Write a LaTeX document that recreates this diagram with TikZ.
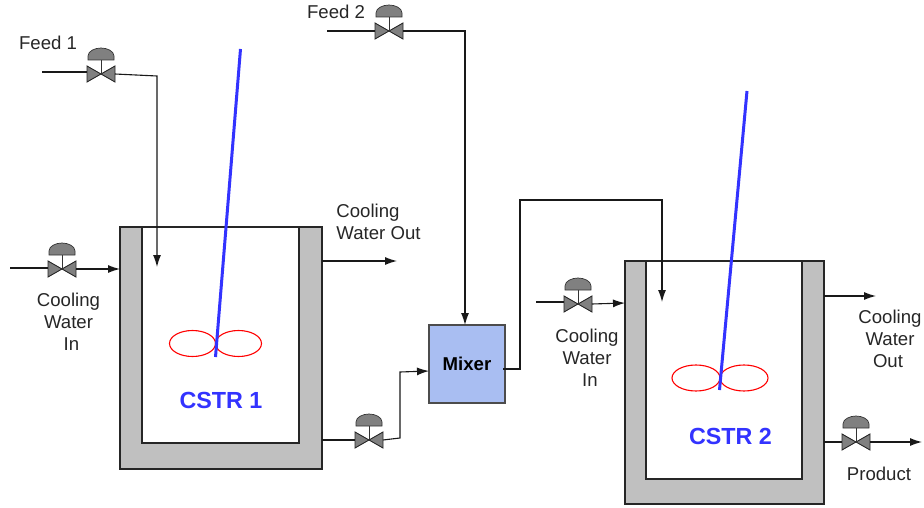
\documentclass[tikz,border=0pt]{standalone}
\usepackage{fontspec}
\setmainfont{Liberation Sans}
\usetikzlibrary{arrows.meta,calc}
\definecolor{jacket}{HTML}{C0C0C0}
\definecolor{valvegray}{HTML}{808080}
\definecolor{mixerblue}{HTML}{A9BEF2}
\definecolor{shaftblue}{HTML}{3333FF}
\tikzset{
  vessel/.style={draw=black!85,line width=1.2pt,fill=jacket,inner sep=0pt,outer sep=0pt},
  cavity/.style={draw=black!85,line width=1.2pt,fill=white,inner sep=0pt,outer sep=0pt},
  mixerbox/.style={draw=black!70,line width=1.2pt,fill=mixerblue,inner sep=0pt,outer sep=0pt,font=\fontsize{18.6}{20}\selectfont\bfseries,minimum width=76pt,minimum height=78pt},
  pipe/.style={draw=black!90,line width=1.1pt},
  flow/.style={pipe,-{Latex[length=12pt,width=8pt]}},
  shaftline/.style={draw=shaftblue,line width=3pt},
  blade/.style={draw=red,line width=1.1pt},
  lbl/.style={inner sep=0pt,font=\fontsize{18.6}{22}\selectfont,align=center,text=black!85},
  lblleft/.style={lbl,align=left},
  tag/.style={inner sep=0pt,font=\fontsize{23.3}{26}\selectfont\bfseries,text=shaftblue},
  valve/.pic={
    \coordinate (-l) at (-14,0);
    \coordinate (-r) at (14,0);
    \draw[draw=black!85,fill=valvegray,line width=0.9pt] (-14,-8)--(0,0)--(-14,8)--cycle;
    \draw[draw=black!85,fill=valvegray,line width=0.9pt] (14,-8)--(0,0)--(14,8)--cycle;
    \draw[draw=black!80,line width=0.9pt] (0,0)--(0,-14);
    \draw[draw=black!80,fill=valvegray,line width=0.7pt] (-13,-14)--(13,-14)--(13,-18) .. controls (13,-23) and (6,-26) .. (0,-26) .. controls (-6,-26) and (-13,-23) .. (-13,-18)--cycle;
  }
}
\begin{document}
\begin{tikzpicture}[x=1pt,y=-1pt]
\useasboundingbox (0,0) rectangle (924,508);
% vessels
\node[vessel,minimum width=202pt,minimum height=242pt] (r1) at (221,348) {};
\node[cavity,minimum width=157pt,minimum height=216pt] (r1in) at (220.5,335) {};
\node[vessel,minimum width=199pt,minimum height=243pt] (r2) at (724.5,382.5) {};
\node[cavity,minimum width=156pt,minimum height=218pt] (r2in) at (724,370) {};
\node[mixerbox] (mix) at (467,364) {Mixer};
% valves
\pic (vf1) at (101,74) {valve};
\pic (vf2) at (389,31) {valve};
\pic (vc1) at (62,269) {valve};
\pic (vo1) at (369,440) {valve};
\pic (vc2) at (578,304) {valve};
\pic (vp) at (856,442) {valve};
% free ends
\coordinate (f1s) at (42,72);
\coordinate (f1v) at (87,72);
\coordinate (f1e) at (157,267);
\coordinate (f2s) at (327,31);
\coordinate (c1s) at (10,268);
\coordinate (c1v) at (48,268);
\coordinate (c1o) at (397,261);
\coordinate (c2s) at (536,302);
\coordinate (c2v) at (564,302);
\coordinate (c2o) at (876,296);
\coordinate (pe) at (922,442);
\coordinate (m2e) at (662,302);
% pipes
\draw[pipe] (f1s)--(f1v);
\draw[flow] (vf1-r)--(157,76)--(f1e);
\draw[pipe] (f2s)--(vf2-l);
\draw[flow] (vf2-r)--(465,31)--(465,325);
\draw[pipe] (c1s)--(c1v);
\draw[flow] (vc1-r)--(120,269);
\draw[flow] (322,261)--(c1o);
\draw[pipe] (322,440)--(vo1-l);
\draw[flow] (vo1-r)--(400,438)--(400,372)--(429,371);
\draw[flow] (503,369)--(520,369)--(520,200)--(662,200)--(m2e);
\draw[pipe] (c2s)--(c2v);
\draw[flow] (vc2-r)--(625,303);
\draw[flow] (824,296)--(c2o);
\draw[pipe] (824,442)--(vp-l);
\draw[flow] (vp-r)--(pe);
% agitators
\coordinate (s1t) at (240.5,49);
\coordinate (s1b) at (215.5,357);
\coordinate (s2t) at (747,91);
\coordinate (s2b) at (719.5,390);
\draw[blade] (192.5,343.5) ellipse [x radius=23,y radius=13];
\draw[blade] (238.5,343.5) ellipse [x radius=23,y radius=13];
\draw[blade] (696,378) ellipse [x radius=24,y radius=13];
\draw[blade] (744,378) ellipse [x radius=24,y radius=13];
\draw[shaftline] (s1t)--(s1b);
\draw[shaftline] (s2t)--(s2b);
% labels
\node[tag] (t1) at (221,400) {CSTR 1};
\node[tag] (t2) at (730.5,436) {CSTR 2};
\node[lbl] (lf1) at (48,43) {Feed 1};
\node[lbl] (lf2) at (336,12) {Feed 2};
\node[lbl] (lc1) at (68.5,321.5) {Cooling\\Water\\\hspace*{6pt}In};
\node[lblleft] (lo1) at (378.5,222) {Cooling\\Water Out};
\node[lbl] (lc2) at (587,358) {Cooling\\Water\\\hspace*{6pt}In};
\node[lbl] (lo2) at (890,338.5) {Cooling\\Water\\\hspace*{-4pt}Out};
\node[lbl] (lp) at (879,474) {Product};
\end{tikzpicture}
\end{document}
